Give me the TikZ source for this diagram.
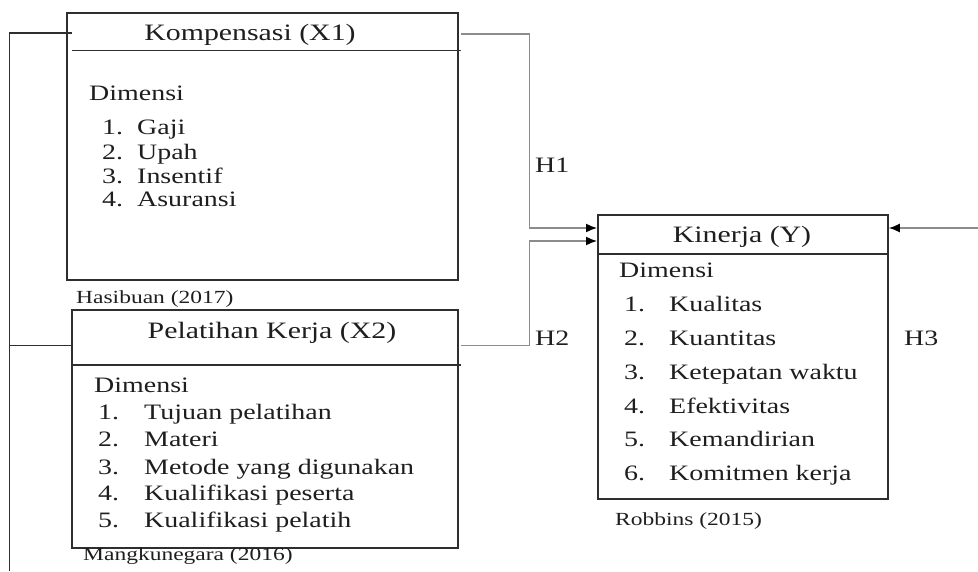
\documentclass[tikz,border=0pt]{standalone}
\usepackage{fontspec}
\setmainfont[FakeStretch=1.27]{Liberation Serif}
\usetikzlibrary{arrows.meta}
\definecolor{ink}{HTML}{1E1E1E}
\definecolor{boxline}{HTML}{2E2E2E}
\definecolor{connline}{HTML}{8C8C8C}
\tikzset{
  boxst/.style={draw=boxline, line width=1.8pt, inner sep=0pt, anchor=north west},
  divider/.style={draw=boxline, line width=1.6pt},
  titlest/.style={text=ink, inner sep=0pt, text height=16pt, text depth=5pt, font=\fontsize{23.5}{26}\selectfont},
  itemst/.style={text=ink, inner sep=0pt, anchor=west, text height=15pt, text depth=5pt, font=\fontsize{22}{26}\selectfont},
  citest/.style={text=ink, inner sep=0pt, anchor=west, text height=13pt, text depth=4pt, font=\fontsize{18.5}{22}\selectfont},
  conn/.style={draw=connline, line width=1.5pt},
  lconn/.style={draw=boxline, line width=1.5pt},
  tip/.style={-{Latex[length=11pt,width=9pt,color=black]}}
}
\begin{document}
\begin{tikzpicture}[x=1pt,y=-1pt]
\useasboundingbox (0,0) rectangle (978,571);
% boxes
\node[boxst, minimum width=391pt, minimum height=267pt] (X1) at (66,12) {};
\node[boxst, minimum width=386pt, minimum height=238pt] (X2) at (71,309) {};
\node[boxst, minimum width=290pt, minimum height=284pt] (Y) at (597,214) {};
% dividers
\draw[divider] (72,50.5) -- (461,50.5);
\draw[divider] (72,365) -- (461,365);
\draw[divider] (597,254) -- (887,254);
% titles
\node[titlest] (X1t) at (250,35) {Kompensasi (X1)};
\node[titlest] (X2t) at (272,333) {Pelatihan Kerja (X2)};
\node[titlest] (Yt) at (742,237) {Kinerja (Y)};
% X1 content
\node[itemst] (X1d) at (89,95) {Dimensi};
\node[itemst] (X1n1) at (102,129) {1.};
\node[itemst] (X1i1) at (137,129) {Gaji};
\node[itemst] (X1n2) at (102,154) {2.};
\node[itemst] (X1i2) at (137,154) {Upah};
\node[itemst] (X1n3) at (102,178) {3.};
\node[itemst] (X1i3) at (137,178) {Insentif};
\node[itemst] (X1n4) at (102,201) {4.};
\node[itemst] (X1i4) at (137,201) {Asuransi};
\node[citest] (c1) at (76,299) {Hasibuan (2017)};
% X2 content
\node[itemst] (X2d) at (94,387) {Dimensi};
\node[itemst] (X2n1) at (98,414) {1.};
\node[itemst] (X2i1) at (144,414) {Tujuan pelatihan};
\node[itemst] (X2n2) at (98,441) {2.};
\node[itemst] (X2i2) at (144,441) {Materi};
\node[itemst] (X2n3) at (98,469) {3.};
\node[itemst] (X2i3) at (144,469) {Metode yang digunakan};
\node[itemst] (X2n4) at (98,495) {4.};
\node[itemst] (X2i4) at (144,495) {Kualifikasi peserta};
\node[itemst] (X2n5) at (98,522) {5.};
\node[itemst] (X2i5) at (144,522) {Kualifikasi pelatih};
\node[citest] (c2) at (83,556) {Mangkunegara (2016)};
% Y content
\node[itemst] (Yd) at (619,272) {Dimensi};
\node[itemst] (Yn1) at (624,306) {1.};
\node[itemst] (Yi1) at (669,306) {Kualitas};
\node[itemst] (Yn2) at (624,340) {2.};
\node[itemst] (Yi2) at (669,340) {Kuantitas};
\node[itemst] (Yn3) at (624,374) {3.};
\node[itemst] (Yi3) at (669,374) {Ketepatan waktu};
\node[itemst] (Yn4) at (624,408) {4.};
\node[itemst] (Yi4) at (669,408) {Efektivitas};
\node[itemst] (Yn5) at (624,441) {5.};
\node[itemst] (Yi5) at (669,441) {Kemandirian};
\node[itemst] (Yn6) at (624,475) {6.};
\node[itemst] (Yi6) at (669,475) {Komitmen kerja};
\node[citest] (c3) at (615,521) {Robbins (2015)};
% hypothesis labels
\node[itemst] (H1) at (535,167) {H1};
\node[itemst] (H2) at (535,340) {H2};
\node[itemst] (H3) at (904,340) {H3};
% connector coordinates
\coordinate (x1out) at (461,34);
\coordinate (x2out) at (461,345.5);
\coordinate (yin1) at (Y.west |- 0,228);
\coordinate (yin2) at (Y.west |- 0,241);
\coordinate (yin3) at (Y.east |- 0,228);
\coordinate (rfree) at (978,228);
\coordinate (x1in) at (72,33);
\coordinate (x2in) at (72,345.5);
\coordinate (lbot) at (9.5,571);
% connectors
\draw[conn, tip] (x1out) -- (529.5,34) -- (529.5,228) -- (yin1);
\draw[conn, tip] (x2out) -- (529.5,345.5) -- (529.5,241) -- (yin2);
\draw[conn, tip] (rfree) -- (yin3);
\draw[lconn] (x1in) -- (9.5,33) -- (lbot);
\draw[lconn] (9.5,345.5) -- (x2in);
\end{tikzpicture}
\end{document}
